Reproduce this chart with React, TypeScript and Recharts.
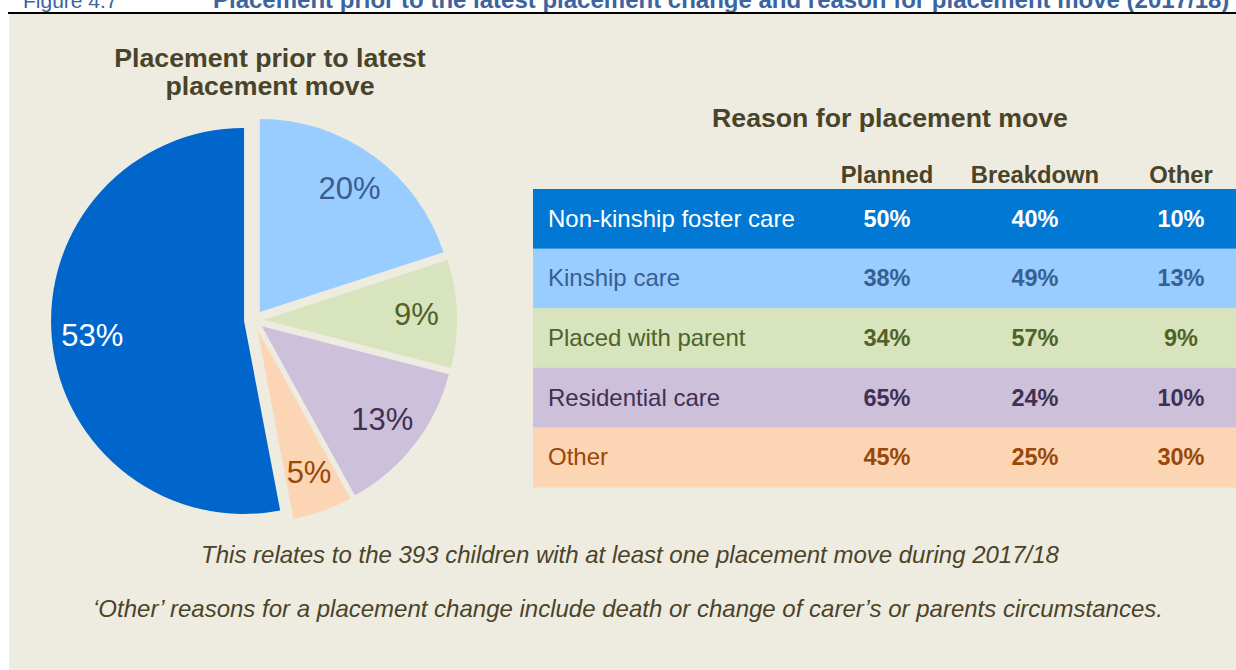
import React from "react";
import { PieChart, Pie, Cell, Sector } from "recharts";

// ---------- data ----------
const pieCategories = ["Kinship care", "Placed with parent", "Residential care", "Other", "Non-kinship foster care"];
const pieValues = [20, 9, 13, 5, 53];
const pieColors = ["#99CCFF", "#D7E4BD", "#CCC0DA", "#FCD5B5", "#0066CC"];
const pieLabelColors = ["#3A5C8E", "#4F6228", "#403152", "#984807", "#FFFFFF"];

const tableRows = ["Non-kinship foster care", "Kinship care", "Placed with parent", "Residential care", "Other"];
const tableColumns = ["Planned", "Breakdown", "Other"];
const plannedValues = [50, 38, 34, 65, 45];
const breakdownValues = [40, 49, 57, 24, 25];
const otherValues = [10, 13, 9, 10, 30];
const rowFills = ["#0078D4", "#99CCFF", "#D7E4BD", "#CCC0DA", "#FCD5B5"];
const rowTextColors = ["#FFFFFF", "#376092", "#4F6228", "#403152", "#984807"];

const figureNumber = "Figure 4.7";
const figureTitle = "Placement prior to the latest placement change and reason for placement move (2017/18)";
const pieTitle = ["Placement prior to latest", "placement move"];
const tableTitle = "Reason for placement move";
const footnotes = [
  "This relates to the 393 children with at least one placement move during 2017/18",
  "\u2018Other\u2019 reasons for a placement change include death or change of carer\u2019s or parents circumstances.",
];

const pieData = pieCategories.map((name, i) => ({ name, value: pieValues[i] }));

// ---------- styles ----------
const FONT = "'Liberation Sans', Arial, Helvetica, sans-serif";
const BEIGE = "#EEEBE0";
const DARK = "#494429";
const EXPLODE = 10;
const RAD = Math.PI / 180;

const renderSectors = (props: any) => {
  const { cx, cy, midAngle, outerRadius, startAngle, endAngle, index } = props;
  const dx = Math.cos(-midAngle * RAD);
  const dy = Math.sin(-midAngle * RAD);
  return (
    <Sector
      cx={cx + EXPLODE * dx}
      cy={cy + EXPLODE * dy}
      innerRadius={0}
      outerRadius={outerRadius}
      startAngle={startAngle}
      endAngle={endAngle}
      fill={pieColors[index]}
      stroke="none"
    />
  );
};

const renderLabels = (props: any) => {
  const { cx, cy, midAngle, outerRadius, index, value } = props;
  const dx = Math.cos(-midAngle * RAD);
  const dy = Math.sin(-midAngle * RAD);
  const r = EXPLODE + outerRadius * 0.79;
  return (
    <text
      x={cx + r * dx}
      y={cy + r * dy}
      textAnchor="middle"
      dominantBaseline="central"
      fill={pieLabelColors[index]}
      fontSize={31}
      fontFamily={FONT}
    >
      {`${value}%`}
    </text>
  );
};

export default function App() {
  const tableX = 533;
  const tableW = 703;
  const rowTop0 = 189;
  const rowH = 59.6;
  const colX = [887, 1035, 1181];
  const colVals = [plannedValues, breakdownValues, otherValues];

  return (
    <div style={{ position: "absolute", left: 0, top: 0, width: 1236, height: 670, background: "#FFFFFF", overflow: "hidden" }}>
      <svg width={1236} height={670} style={{ position: "absolute", left: 0, top: 0 }}>
        <text x={23} y={7.5} fontFamily={FONT} fontSize={21} fill="#3B64A0">{figureNumber}</text>
        <text x={213} y={7.5} fontFamily={FONT} fontSize={24} fontWeight="bold" fill="#3B64A0">{figureTitle}</text>
        <rect x={8} y={12} width={1228} height={2} fill="#000000" />
        <rect x={9} y={14} width={1227} height={656} fill={BEIGE} />

        <text x={270} y={67} textAnchor="middle" fontFamily={FONT} fontSize={26.7} fontWeight="bold" fill={DARK}>{pieTitle[0]}</text>
        <text x={270} y={95} textAnchor="middle" fontFamily={FONT} fontSize={26.7} fontWeight="bold" fill={DARK}>{pieTitle[1]}</text>

        <text x={890} y={127} textAnchor="middle" fontFamily={FONT} fontSize={26.7} fontWeight="bold" fill={DARK}>{tableTitle}</text>
        {tableColumns.map((c, j) => (
          <text key={c} x={colX[j]} y={183} textAnchor="middle" fontFamily={FONT} fontSize={23.8} fontWeight="bold" fill={DARK}>{c}</text>
        ))}
        {tableRows.map((r, i) => {
          const top = rowTop0 + i * rowH;
          const base = top + rowH / 2 + 8;
          return (
            <g key={r}>
              <rect x={tableX} y={top} width={tableW} height={rowH + 0.5} fill={rowFills[i]} />
              <text x={548} y={base} fontFamily={FONT} fontSize={24} fill={rowTextColors[i]}>{r}</text>
              {colVals.map((vals, j) => (
                <text key={j} x={colX[j]} y={base} textAnchor="middle" fontFamily={FONT} fontSize={23.5} fontWeight="bold" fill={rowTextColors[i]}>
                  {`${vals[i]}%`}
                </text>
              ))}
            </g>
          );
        })}

        <text x={630} y={563} textAnchor="middle" fontFamily={FONT} fontSize={24} fontStyle="italic" fill={DARK}>{footnotes[0]}</text>
        <text x={628} y={617} textAnchor="middle" fontFamily={FONT} fontSize={24} fontStyle="italic" fill={DARK}>{footnotes[1]}</text>
      </svg>

      <div style={{ position: "absolute", left: 0, top: 0 }}>
        <PieChart width={1236} height={670} margin={{ top: 0, right: 0, bottom: 0, left: 0 }}>
          <Pie
            data={pieData}
            dataKey="value"
            nameKey="name"
            cx={254}
            cy={320}
            outerRadius={193}
            startAngle={90}
            endAngle={-270}
            label={renderSectors}
            labelLine={false}
            isAnimationActive={false}
          >
            {pieData.map((d) => (
              <Cell key={d.name} fill="transparent" stroke="none" />
            ))}
          </Pie>
          <Pie
            data={pieData}
            dataKey="value"
            nameKey="name"
            cx={254}
            cy={320}
            outerRadius={193}
            startAngle={90}
            endAngle={-270}
            label={renderLabels}
            labelLine={false}
            isAnimationActive={false}
          >
            {pieData.map((d) => (
              <Cell key={d.name} fill="transparent" stroke="none" />
            ))}
          </Pie>
        </PieChart>
      </div>
    </div>
  );
}
